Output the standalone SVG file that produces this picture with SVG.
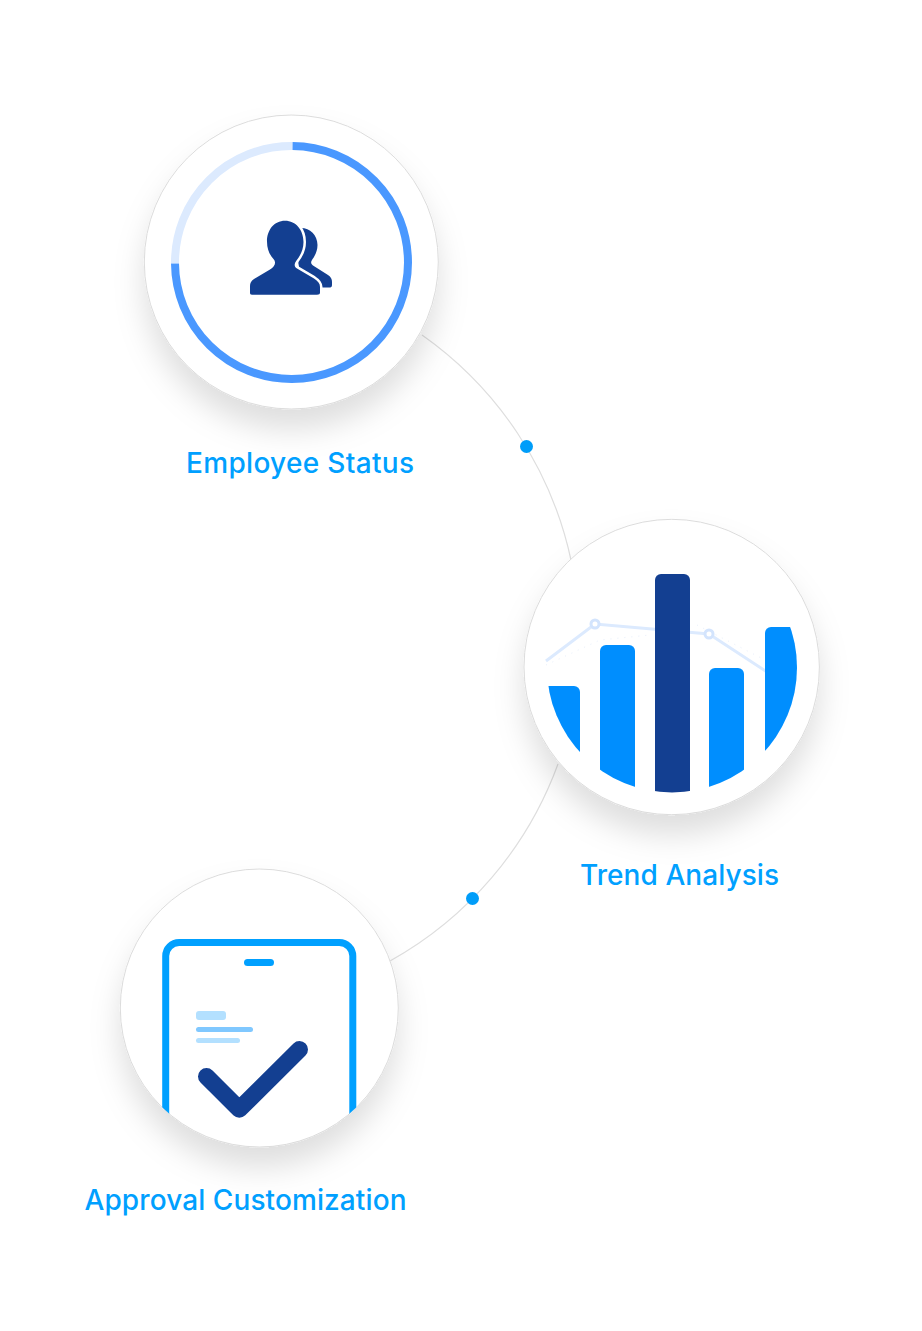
<svg xmlns="http://www.w3.org/2000/svg" width="922" height="1331" viewBox="0 0 922 1331">
<style>
.disc{fill:#fff;stroke:#dcdcdc;stroke-width:1;filter:url(#sh)}
.lbl{font-family:"Inter","Liberation Sans",sans-serif;font-size:28px;font-weight:500;fill:#00a0ff}
.dot{fill:#009df9}
.link{fill:none;stroke:#dedede;stroke-width:1.2}
.bar{fill:#008efe}
.navy{fill:#133f91}
.pt{fill:#fff;stroke:#d3e4fd;stroke-width:3}
</style>
<defs>
<filter id="sh" x="-30%" y="-30%" width="160%" height="170%"><feDropShadow dx="0" dy="20" stdDeviation="15" flood-color="#000" flood-opacity="0.13"/></filter>
<clipPath id="c2"><circle cx="672" cy="667.5" r="125"/></clipPath>
<clipPath id="c3"><circle cx="259.3" cy="1008" r="139"/></clipPath>
</defs>
<rect width="922" height="1331" fill="#fff"/>
<g id="connectors">
<path class="link" d="M422 335A370.7 370.7 0 0 1 571 560"/>
<path class="link" d="M558 764A370.7 370.7 0 0 1 390 961"/>
<circle class="dot" cx="526.5" cy="446.5" r="6.5"/>
<circle class="dot" cx="472.5" cy="898.5" r="6.5"/>
</g>
<g id="employee-status">
<circle class="disc" cx="291.3" cy="262" r="147"/>
<path d="M175 263A116.5 116.5 0 0 1 292 146" fill="none" stroke="#dceafe" stroke-width="8"/>
<path d="M292.5 146A116.5 116.5 0 1 1 175 263.5" fill="none" stroke="#4a98ff" stroke-width="8"/>
<path class="navy" d="M301 228C310 228 317.5 235 317.5 245C317.5 252 314 257 312 260C310.500 262.500 311 264 313 265.500L328 275C331 277 332 279 332 282V285C332 287 331 287.500 329 287.500H318L300 270C296 260 298 235 301 228Z"/>
<path class="navy" stroke="#fff" stroke-width="5" paint-order="stroke" stroke-linejoin="round" d="M285 220.700C296 220.700 303.500 230 303.500 242C303.500 250 300 256 296.500 260.500C294 264 294 266.500 297 268.500L314 278.500C318 281 320 283.500 320 287V292.500C320 294 319 294.700 317 294.700H252C250.500 294.700 250 294 250 292.500V286C250 283 251 281 254 279L270 269.500C275 266 276.500 262.500 273.500 259C270 255 267 250 267 241.500C267 230 274 220.700 285 220.700Z"/>
<text class="lbl" x="186" y="472.500" textLength="228">Employee Status</text>
</g>
<g id="trend-analysis">
<circle class="disc" cx="671.7" cy="667" r="147.7"/>
<polyline points="546,665 600,640 650,635" fill="none" stroke="#e8effb" stroke-width="1" stroke-dasharray="1 6"/>
<polyline points="697,625 765,660" fill="none" stroke="#e8effb" stroke-width="1" stroke-dasharray="1 6"/>
<polyline points="546,661 595,624 709,634 770,674" fill="none" stroke="#dceafe" stroke-width="3"/>
<circle class="pt" cx="595" cy="624" r="4"/>
<circle class="pt" cx="709" cy="634" r="4"/>
<g clip-path="url(#c2)">
<rect class="bar" x="540" y="686" width="40" height="120" rx="6"/>
<rect class="bar" x="600" y="645" width="35" height="160" rx="6"/>
<rect class="navy" x="655" y="574" width="35" height="230" rx="6"/>
<rect class="bar" x="709" y="668" width="35" height="140" rx="6"/>
<rect class="bar" x="765" y="627" width="40" height="180" rx="6"/>
</g>
<text class="lbl" x="580" y="884.500" textLength="199">Trend Analysis</text>
</g>
<g id="approval-customization">
<circle class="disc" cx="259.3" cy="1008" r="139"/>
<g clip-path="url(#c3)">
<path d="M165.700 1160V956A13.500 13.500 0 0 1 179.200 942.500H339.300A13.500 13.500 0 0 1 352.800 956V1160" fill="none" stroke="#00a0ff" stroke-width="7"/>
</g>
<rect x="244" y="959" width="30" height="7" rx="3.500" fill="#00a0ff"/>
<rect x="196" y="1011" width="30" height="9" rx="3" fill="#b3e0ff"/>
<rect x="196" y="1027" width="57" height="5" rx="2.500" fill="#80c8ff"/>
<rect x="196" y="1038" width="44" height="5" rx="2.500" fill="#b3e0ff"/>
<path d="M206.500 1076.500L239.300 1109.300L299.500 1049.500" fill="none" stroke="#133f91" stroke-width="17" stroke-linecap="round" stroke-linejoin="round"/>
<text class="lbl" x="84.500" y="1209.500" textLength="322">Approval Customization</text>
</g>
</svg>
